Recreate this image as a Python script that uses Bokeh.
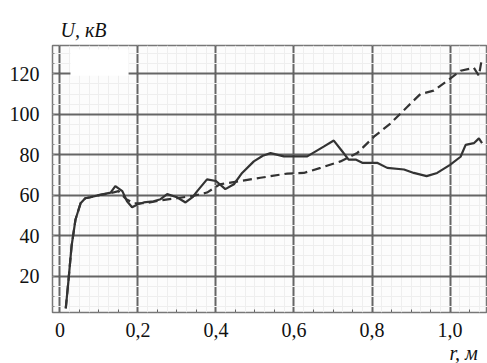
from bokeh.plotting import figure
from bokeh.models import Range1d, FixedTicker, Title
from bokeh.embed import file_html
from bokeh.resources import INLINE

# data (r in m, U in kV)
solid_r = [0.015, 0.022, 0.03, 0.04, 0.053, 0.065, 0.078, 0.1, 0.13, 0.142, 0.16, 0.172,
           0.185, 0.2, 0.215, 0.24, 0.258, 0.275, 0.3, 0.322, 0.34, 0.352, 0.377, 0.4,
           0.424, 0.446, 0.467, 0.497, 0.52, 0.54, 0.574, 0.634, 0.676, 0.702, 0.724,
           0.74, 0.758, 0.775, 0.813, 0.839, 0.882, 0.907, 0.94, 0.967, 1.0, 1.027,
           1.04, 1.061, 1.074, 1.082]
solid_u = [4, 18, 35, 48, 56, 58.5, 59, 60, 61.3, 64.5, 62, 57,
           54, 55.5, 56.4, 57, 58, 60.5, 59, 56.4, 59, 62, 67.8, 67,
           63, 65.4, 71, 76.7, 79.5, 80.8, 79.2, 79.2, 84, 87, 81.6,
           77.6, 77.6, 76, 76, 73.5, 72.7, 71, 69.4, 71, 75, 79,
           84.9, 85.7, 88.1, 85.7]

dash_r = [0.015, 0.022, 0.03, 0.04, 0.053, 0.065, 0.078, 0.1, 0.13, 0.15, 0.17, 0.19,
          0.22, 0.26, 0.3, 0.343, 0.377, 0.41, 0.463, 0.514, 0.583, 0.625, 0.668,
          0.719, 0.762, 0.805, 0.847, 0.89, 0.924, 0.958, 0.993, 1.027, 1.061,
          1.074, 1.082]
dash_u = [4, 18, 35, 48, 56, 58.5, 59, 60, 61, 62, 58, 56,
          56, 57.5, 58.5, 59.7, 61.3, 65.4, 67, 68.6, 70.7, 71, 73.5,
          76.7, 80.8, 88.9, 95.4, 103.6, 110, 111.7, 116.6, 121.5, 123,
          119, 128]

x_ticks = [0, 0.2, 0.4, 0.6, 0.8, 1.0]
x_tick_labels = ["0", "0,2", "0,4", "0,6", "0,8", "1,0"]
y_ticks = [20, 40, 60, 80, 100, 120]
y_label = "U, кВ"
x_label = "r, м"

FONT = "Liberation Serif"
FS = "20px"

p = figure(width=487, height=363, output_backend="svg", toolbar_location=None,
           x_range=Range1d(-0.019, 1.096), y_range=Range1d(2, 134),
           min_border_left=52, min_border_right=0, min_border_top=45, min_border_bottom=48)
p.background_fill_color = "#fcfcfc"
p.border_fill_color = "white"
p.outline_line_color = "#777777"
p.outline_line_width = 1.5

for ax in (p.xaxis, p.yaxis):
    ax.axis_line_color = None
    ax.major_tick_line_color = None
    ax.major_label_text_font = FONT
    ax.major_label_text_font_size = FS
    ax.major_label_text_color = "#111111"

p.xaxis.ticker = FixedTicker(ticks=x_ticks,
                             minor_ticks=[i * 0.05 for i in range(0, 23)])
p.xaxis.major_label_overrides = {t: l for t, l in zip(x_ticks, x_tick_labels)}
p.xaxis.minor_tick_line_color = "#666666"
p.xaxis.minor_tick_in = 3
p.xaxis.minor_tick_out = 0
p.xaxis.major_label_standoff = 4

p.yaxis.ticker = FixedTicker(ticks=y_ticks,
                             minor_ticks=[i * 5 for i in range(1, 27)])
p.yaxis.minor_tick_line_color = "#888888"
p.yaxis.minor_tick_in = 2
p.yaxis.minor_tick_out = 0
p.yaxis.major_label_standoff = 7

for g in (p.xgrid, p.ygrid):
    g.grid_line_color = "#555555"
    g.grid_line_width = 2
    g.grid_line_alpha = 0.9
    g.minor_grid_line_color = "#eeeeee"
    g.minor_grid_line_width = 1
p.xgrid.ticker = FixedTicker(ticks=x_ticks, minor_ticks=[i * 0.025 for i in range(0, 45)])
p.ygrid.ticker = FixedTicker(ticks=y_ticks, minor_ticks=[i * 5 for i in range(1, 27)])

# scanning artefact: white patch in the upper-left corner of the original
p.quad(left=0.027, right=0.176, bottom=119, top=132, fill_color="white",
       line_color=None)

p.line(dash_r, dash_u, line_color="#333333", line_width=2.2, line_dash="9 5")
p.line(solid_r, solid_u, line_color="#333333", line_width=2.2)

common = dict(text_font=FONT, text_font_size=FS, text_color="#111111", align="left",
              text_font_style="italic")
p.add_layout(Title(text=y_label, offset=8, standoff=9, **common), "above")
p.add_layout(Title(text=x_label, offset=397, standoff=0, **common), "below")

open("out.html", "w").write(file_html(p, INLINE))
